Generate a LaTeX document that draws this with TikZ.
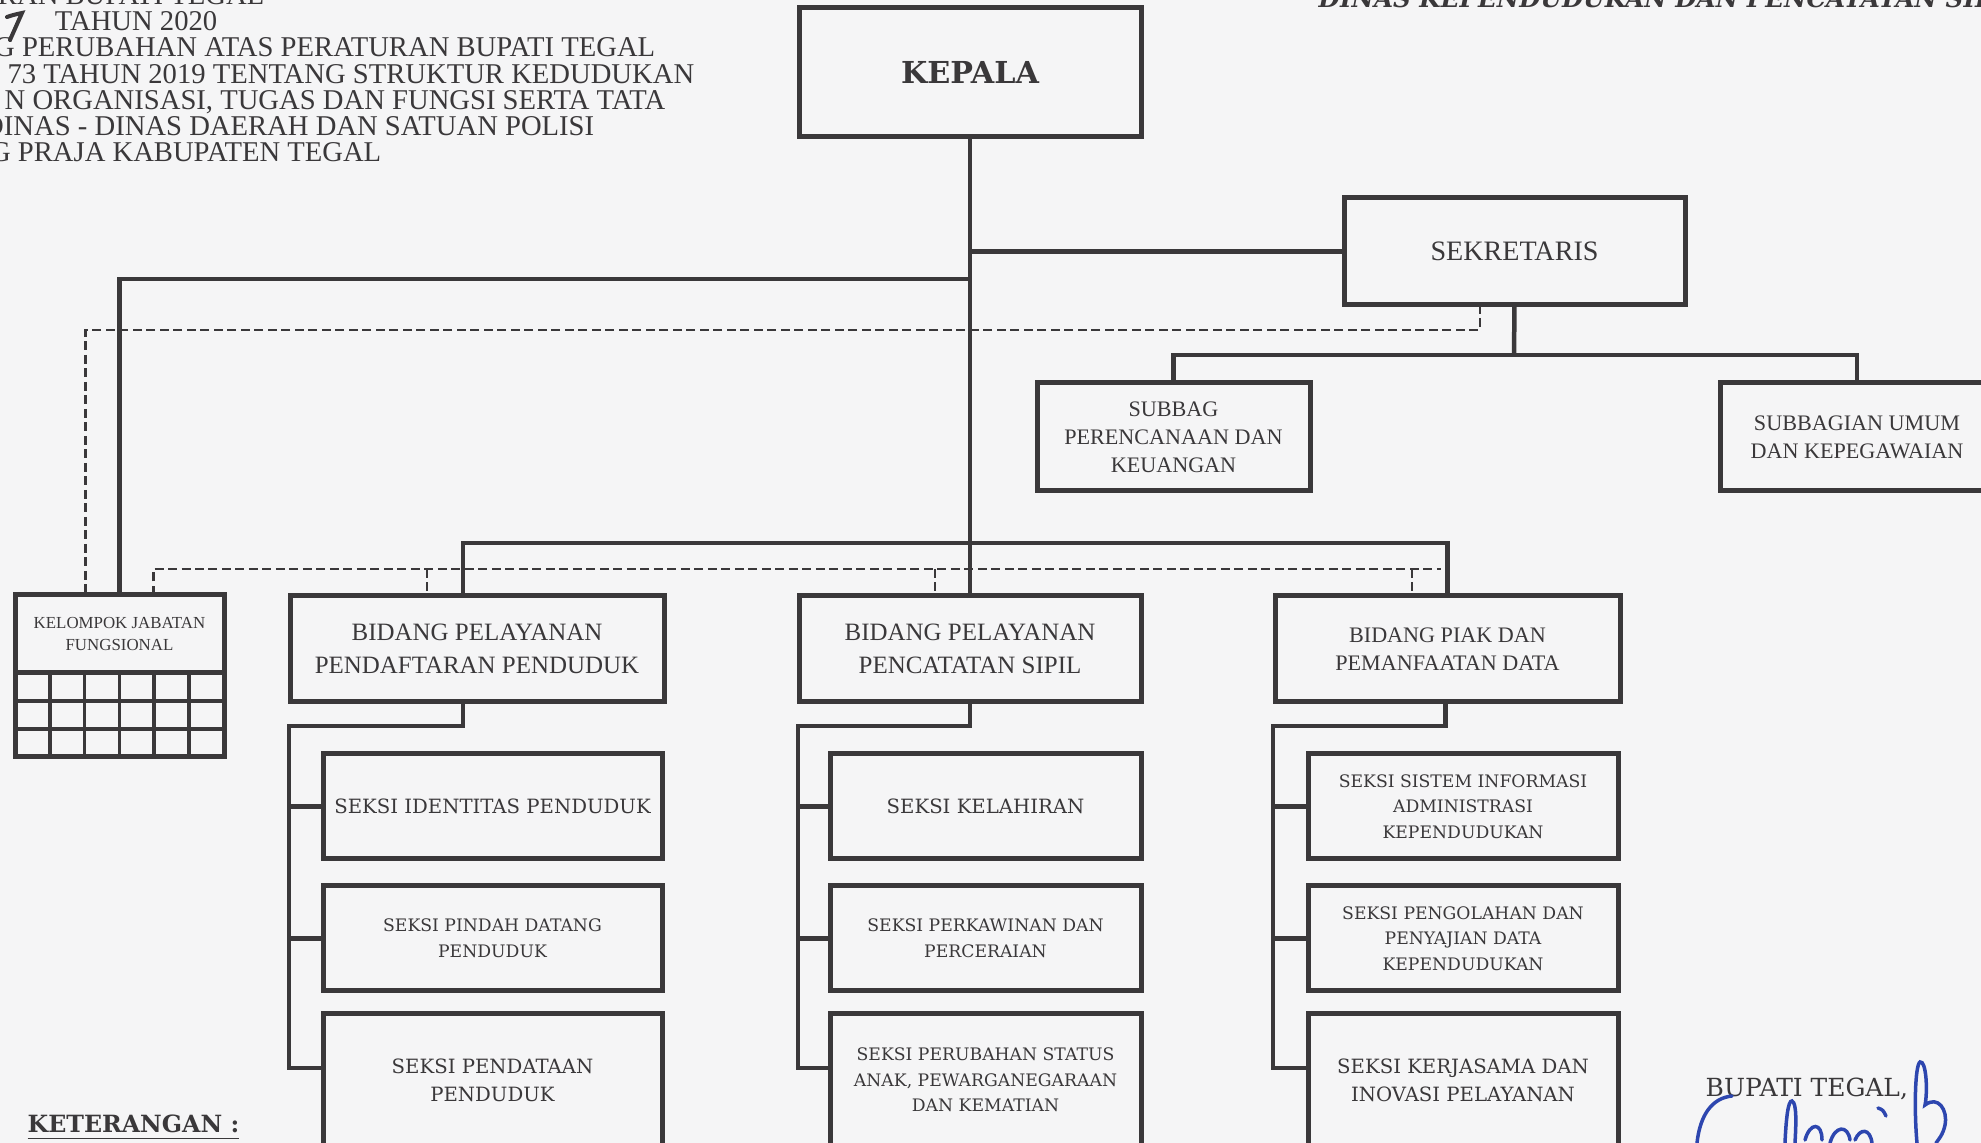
\documentclass[tikz,border=0pt]{standalone}
\usepackage{fontspec}
\setmainfont{Liberation Serif}
\newfontfamily\bukufont{DejaVu Serif}
\usetikzlibrary{positioning}
\definecolor{kertas}{RGB}{245,245,246}
\definecolor{tinta}{RGB}{58,56,58}
\definecolor{tintabiru}{RGB}{45,70,175}
\newcommand{\ukuran}[2]{\fontsize{#1}{#2}\selectfont}

\begin{document}
\begin{tikzpicture}[x=0.1mm, y=-0.1mm,
    % Box styles
    kotak/.style={draw=tinta, line width=0.5mm, inner sep=0pt, outer sep=0pt, align=center, text=tinta},
    kepalabox/.style={kotak, minimum width=34.2mm, minimum height=12.9mm, font=\bukufont\bfseries\ukuran{8.6}{9}},
    sekbox/.style={kotak, minimum width=34.1mm, minimum height=10.7mm, font=\ukuran{8}{9}},
    subbag/.style={kotak, minimum width=27.3mm, minimum height=10.8mm, font=\ukuran{6.3}{8}},
    jabfung/.style={kotak, minimum width=20.9mm, minimum height=7.8mm, font=\ukuran{4.8}{6.3}},
    bidang/.style={kotak, minimum height=10.6mm, font=\ukuran{7.1}{9.4}},
    seksi/.style={kotak, minimum height=10.5mm, font=\bukufont\ukuran{5.6}{8}},
    seksikecil/.style={seksi, font=\bukufont\ukuran{4.9}{7.3}},
    % Line styles
    garis/.style={draw=tinta, line width=0.45mm},
    putus/.style={draw=tinta, line width=0.28mm, dash pattern=on 0.9mm off 0.45mm},
    kisi/.style={draw=tinta, line width=0.35mm},
    ttd/.style={draw=tintabiru, line width=0.35mm, line cap=round},
    % Label styles
    kepalasurat/.style={anchor=base east, inner sep=0pt, text=tinta, font=\ukuran{8.15}{9}},
]

% Page size and paper
\useasboundingbox (0,0) rectangle (1981,1143);
\clip (0,0) rectangle (1981,1143);
\fill[kertas] (0,0) rectangle (1981,1143);

% Letter head (cut at the page edge)
\node[kepalasurat] (h1) at (265,5) {RAN BUPATI TEGAL};
\node[kepalasurat] (h2) at (218,31) {TAHUN 2020};
\node[kepalasurat] (h3) at (656,57) {G PERUBAHAN ATAS PERATURAN BUPATI TEGAL};
\node[kepalasurat] (h4) at (695,84) {73 TAHUN 2019 TENTANG STRUKTUR KEDUDUKAN};
\node[kepalasurat] (h5) at (666,110) {N ORGANISASI, TUGAS DAN FUNGSI SERTA TATA};
\node[kepalasurat] (h6) at (595,136) {DINAS - DINAS DAERAH DAN SATUAN POLISI};
\node[kepalasurat] (h7) at (382,162) {G PRAJA KABUPATEN TEGAL};
\node[anchor=base west, inner sep=0pt, text=tinta, font=\bukufont\bfseries\itshape\ukuran{7}{8}] (dinas) at (1318,8)
    {DINAS KEPENDUDUKAN DAN PENCATATAN SIPIL};
\draw[draw=tinta, line width=0.4mm, line cap=round] (7,17) .. controls (13,15) .. (22,13) -- (10,40);

% Top level
\node[kepalabox] (kepala) at (970,72.5) {KEPALA};
\node[sekbox] (sekretaris) at (1514.5,251.5) {SEKRETARIS};
\node[subbag] (subbagRenkeu) at (1173.5,437) {SUBBAG\\PERENCANAAN DAN\\KEUANGAN};
\node[subbag] (subbagUmum) at (1857,437) {SUBBAGIAN UMUM\\DAN KEPEGAWAIAN};

% Kelompok jabatan fungsional with its grid
\node[jabfung] (kelompok) at (119.5,634) {KELOMPOK JABATAN\\FUNGSIONAL};
\draw[kotak] (kelompok.south west) rectangle ++(209,84);
\foreach \x in {1,...,5}
    \draw[kisi] ([xshift=\x*3.48mm]kelompok.south west) -- ++(0,84);
\foreach \y in {1,2}
    \draw[kisi] ([yshift=-\y*2.8mm]kelompok.south west) -- ++(209,0);

% Bidang
\node[bidang, minimum width=37.4mm] (bidDaftar) at (477,649) {BIDANG PELAYANAN\\PENDAFTARAN PENDUDUK};
\node[bidang, minimum width=34.2mm] (bidCatat) at (970,649) {BIDANG PELAYANAN\\PENCATATAN SIPIL};
\node[bidang, minimum width=34.5mm, font=\ukuran{6.3}{8}] (bidPiak) at (1447.5,649) {BIDANG PIAK DAN\\PEMANFAATAN DATA};

% Seksi
\node[seksi, minimum width=33.9mm] (seksiIdentitas) at (492.5,806.5) {SEKSI IDENTITAS PENDUDUK};
\node[seksikecil, minimum width=33.9mm] (seksiPindah) at (492.5,938.5) {SEKSI PINDAH DATANG\\PENDUDUK};
\node[seksi, minimum width=33.9mm, minimum height=13.2mm] (seksiPendataan) at (492.5,1080) {SEKSI PENDATAAN\\PENDUDUK};

\node[seksi, minimum width=31.1mm] (seksiLahir) at (985.5,806.5) {SEKSI KELAHIRAN};
\node[seksikecil, minimum width=31.1mm] (seksiKawin) at (985.5,938.5) {SEKSI PERKAWINAN DAN\\PERCERAIAN};
\node[seksikecil, minimum width=31.1mm, minimum height=13.2mm] (seksiUbah) at (985.5,1080) {SEKSI PERUBAHAN STATUS\\ANAK, PEWARGANEGARAAN\\DAN KEMATIAN};

\node[seksikecil, minimum width=31mm] (seksiSiak) at (1463,806.5) {SEKSI SISTEM INFORMASI\\ADMINISTRASI\\KEPENDUDUKAN};
\node[seksikecil, minimum width=31mm] (seksiOlah) at (1463,938.5) {SEKSI PENGOLAHAN DAN\\PENYAJIAN DATA\\KEPENDUDUKAN};
\node[seksi, minimum width=31mm, minimum height=13.2mm] (seksiKerja) at (1463,1080) {SEKSI KERJASAMA DAN\\INOVASI PELAYANAN};

% Command lines
\coordinate (busKiri) at (970,279);
\coordinate (busSek) at (1514,355);
\coordinate (kolDaftar) at (463,543);
\coordinate (baris3) at (0,1068);
\draw[garis] (kepala.south) -- (bidCatat.north);
\draw[garis] (busKiri) -| (kelompok.north);
\draw[garis] (kepala.south |- sekretaris.west) -- (sekretaris.west);
\draw[garis] (sekretaris.south) -- (busSek);
\draw[garis] (subbagRenkeu.north) |- (busSek) -| (subbagUmum.north);
\draw[garis] (kolDaftar |- bidDaftar.north) -- (kolDaftar) -| (bidPiak.north);

\foreach \bid/\geser/\sisi/\a/\b/\c in {
    bidDaftar/-1.4mm/289/seksiIdentitas/seksiPindah/seksiPendataan,
    bidCatat/0mm/798/seksiLahir/seksiKawin/seksiUbah,
    bidPiak/-0.2mm/1273/seksiSiak/seksiOlah/seksiKerja}{
    \coordinate (sisi) at (\sisi,726);
    \draw[garis] ([xshift=\geser]\bid.south) |- (sisi) -- (sisi |- baris3) -- (baris3 -| \c.west);
    \draw[garis] (sisi |- \a.west) -- (\a.west);
    \draw[garis] (sisi |- \b.west) -- (\b.west);
}

% Coordination lines (dashed)
\coordinate (putusSek) at (1480,330);
\coordinate (ujungPutus) at (1441,569);
\draw[putus] (putusSek |- sekretaris.south) -- (putusSek) -| ([xshift=-3.4mm]kelompok.north);
\draw[putus] ([xshift=3.4mm]kelompok.north) |- (ujungPutus);
\foreach \x/\tujuan in {427/bidDaftar, 935/bidCatat, 1412/bidPiak}{
    \coordinate (tetes) at (\x,569);
    \draw[putus] (tetes) -- (tetes |- \tujuan.north);
}

% Footer
\node[anchor=base west, inner sep=0pt, text=tinta, font=\bukufont\bfseries\ukuran{6.75}{8}] (keterangan) at (27,1133)
    {\underline{KETERANGAN :}};
\node[anchor=base west, inner sep=0pt, text=tinta, font=\bukufont\ukuran{7.1}{8}] (bupati) at (1705,1097) {BUPATI TEGAL,};

% Signature
\draw[ttd] (1697,1143) .. controls (1700,1115) and (1712,1098) .. (1732,1096);
\draw[ttd] (1785,1143) .. controls (1786,1120) and (1788,1100) .. (1792,1101) .. controls (1797,1103) and (1796,1125) .. (1795,1143);
\draw[ttd] (1805,1140) .. controls (1810,1122) and (1822,1122) .. (1822,1140);
\draw[ttd] (1830,1143) .. controls (1835,1125) and (1848,1125) .. (1850,1140);
\draw[ttd] (1855,1140) .. controls (1860,1128) and (1870,1128) .. (1872,1143);
\draw[ttd] (1878,1108) .. controls (1883,1110) .. (1886,1116);
\draw[ttd] (1917,1143) .. controls (1914,1110) and (1915,1065) .. (1920,1062) .. controls (1926,1060) and (1928,1090) .. (1925,1105) .. controls (1938,1095) and (1948,1110) .. (1945,1125) .. controls (1943,1135) and (1938,1140) .. (1936,1143);

\end{tikzpicture}
\end{document}
